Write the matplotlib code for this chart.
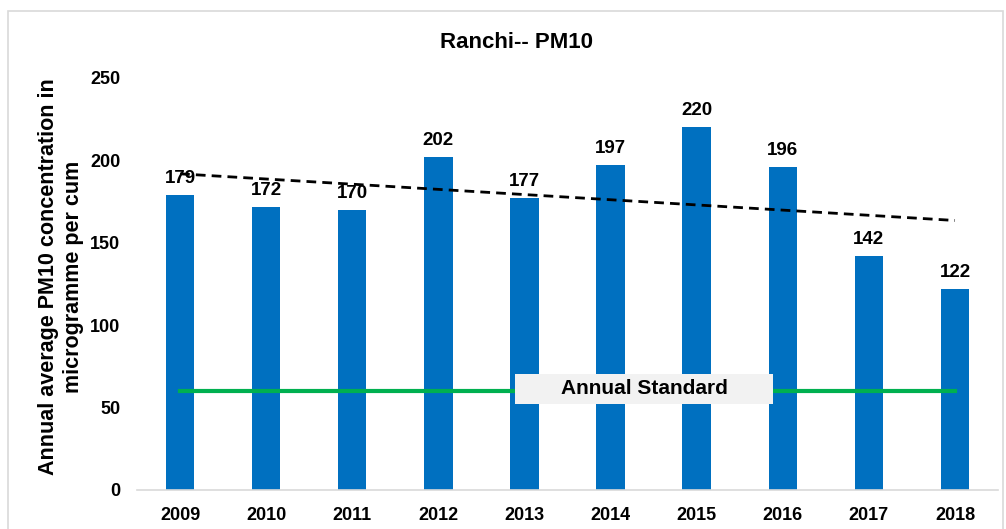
import matplotlib
matplotlib.use("Agg")
import matplotlib.pyplot as plt
import numpy as np
from matplotlib.patches import Rectangle

years = ["2009", "2010", "2011", "2012", "2013", "2014", "2015", "2016", "2017", "2018"]
pm10 = [179, 172, 170, 202, 177, 197, 220, 196, 142, 122]
standard = 60
yticks = [0, 50, 100, 150, 200, 250]

plt.rcParams['font.family'] = ['Liberation Sans', 'DejaVu Sans']

fig = plt.figure(figsize=(10.06, 5.29), dpi=100)
fig.patches.append(Rectangle((8/1006, -0.1), (1003-8)/1006, 1.1 - 11/529,
                             transform=fig.transFigure, fill=False,
                             edgecolor='#D9D9D9', linewidth=1.2))
ax = fig.add_axes([137/1006, 1-490/529, (998-137)/1006, (490-78)/529])

x = np.arange(len(years))
ax.bar(x, pm10, width=0.33, color='#0070C0', zorder=2)
for xi, v in zip(x, pm10):
    ax.text(xi, v + 10.0, str(v), ha='center', va='center', fontsize=13.5,
            fontweight='bold', zorder=4)

coef = np.polyfit(x, pm10, 1)
ax.plot(x, np.polyval(coef, x), linestyle=(0, (3.5, 2.2)), color='black', lw=2, zorder=3)

ax.plot([x[0], x[-1]], [standard, standard], color='#00B050', lw=3, zorder=3)
lab_x, lab_y = 5.39, standard + 1.3
ax.add_patch(Rectangle((lab_x - 1.5, lab_y - 9.1), 3.0, 18.2, facecolor='#F2F2F2',
                       edgecolor='none', zorder=5))
ax.text(lab_x, lab_y, "Annual Standard", ha='center', va='center', fontsize=15,
        fontweight='bold', zorder=6)

ax.set_xlim(-0.5, len(years) - 0.5)
ax.set_ylim(0, 250)
ax.set_yticks(yticks)
ax.set_xticks(x)
ax.set_xticklabels(years)
ax.tick_params(length=0, labelsize=13)
ax.tick_params(axis='x', pad=12)
ax.tick_params(axis='y', pad=12)
for lab in ax.get_xticklabels() + ax.get_yticklabels():
    lab.set_fontweight('bold')
for s in ['top', 'right', 'left']:
    ax.spines[s].set_visible(False)
ax.spines['bottom'].set_color('#D9D9D9')
ax.spines['bottom'].set_linewidth(1.2)

ax.set_ylabel("Annual average PM10 concentration in\nmicrogramme per cum", fontsize=15.5,
              fontweight='bold', linespacing=1.25)
ax.yaxis.set_label_coords(-(137-84)/861, 0.5 + 7/412)
fig.text(516/1006, 1-42/529, "Ranchi-- PM10", ha='center', va='center', fontsize=16,
         fontweight='bold')

fig.savefig("out.png", dpi=100)
